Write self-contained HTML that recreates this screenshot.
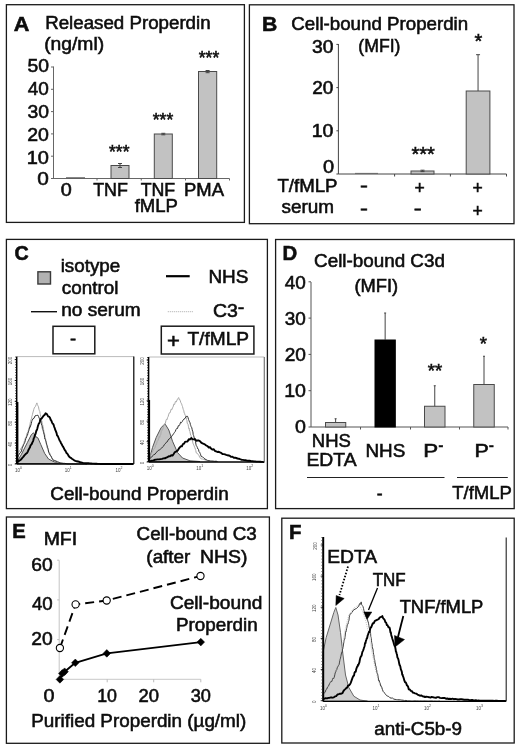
<!DOCTYPE html>
<html><head><meta charset="utf-8"><title>Figure</title>
<style>
html,body{margin:0;padding:0;background:#fff;}
body{width:520px;height:750px;overflow:hidden;}
svg{display:block;font-family:"Liberation Sans",Arial,Helvetica,sans-serif;}
</style></head><body>
<svg width="520" height="750" viewBox="0 0 520 750">
<rect x="0" y="0" width="520" height="750" fill="#ffffff"/>
<rect x="6.40" y="4.70" width="238.00" height="217.70" fill="none" stroke="#1a1a1a" stroke-width="1.3"/>
<rect x="249.40" y="4.80" width="264.60" height="218.90" fill="none" stroke="#1a1a1a" stroke-width="1.3"/>
<rect x="6.40" y="239.40" width="261.00" height="269.20" fill="none" stroke="#1a1a1a" stroke-width="1.3"/>
<rect x="275.60" y="239.50" width="238.60" height="269.10" fill="none" stroke="#1a1a1a" stroke-width="1.3"/>
<rect x="6.40" y="517.00" width="263.00" height="226.30" fill="none" stroke="#1a1a1a" stroke-width="1.3"/>
<rect x="281.80" y="518.20" width="232.40" height="224.80" fill="none" stroke="#1a1a1a" stroke-width="1.3"/>
<text transform="translate(13.86 30.50) scale(1.1098 1)" font-size="19.5" font-weight="bold" fill="#0d0d0d" stroke="#0d0d0d" stroke-width="0.55">A</text>
<text transform="translate(45.20 28.70) scale(1.0699 1)" font-size="17.5" fill="#0d0d0d" stroke="#0d0d0d" stroke-width="0.55">Released Properdin</text>
<text transform="translate(44.14 50.30) scale(1.1027 1)" font-size="17.5" fill="#0d0d0d" stroke="#0d0d0d" stroke-width="0.55">(ng/ml)</text>
<line x1="53.50" y1="66.50" x2="53.50" y2="178.50" stroke="#666" stroke-width="1" />
<line x1="53.00" y1="178.50" x2="229.50" y2="178.50" stroke="#666" stroke-width="1" />
<line x1="51.00" y1="178.50" x2="53.50" y2="178.50" stroke="#666" stroke-width="1" />
<text transform="translate(37.17 185.40) scale(1.1905 1)" font-size="17.5" fill="#0d0d0d" stroke="#0d0d0d" stroke-width="0.55">0</text>
<line x1="51.00" y1="156.20" x2="53.50" y2="156.20" stroke="#666" stroke-width="1" />
<text transform="translate(26.70 163.50) scale(1.1429 1)" font-size="17.5" fill="#0d0d0d" stroke="#0d0d0d" stroke-width="0.55">10</text>
<line x1="51.00" y1="133.90" x2="53.50" y2="133.90" stroke="#666" stroke-width="1" />
<text transform="translate(27.22 141.30) scale(1.1150 1)" font-size="17.5" fill="#0d0d0d" stroke="#0d0d0d" stroke-width="0.55">20</text>
<line x1="51.00" y1="111.60" x2="53.50" y2="111.60" stroke="#666" stroke-width="1" />
<text transform="translate(27.43 118.40) scale(1.1042 1)" font-size="17.5" fill="#0d0d0d" stroke="#0d0d0d" stroke-width="0.55">30</text>
<line x1="51.00" y1="89.30" x2="53.50" y2="89.30" stroke="#666" stroke-width="1" />
<text transform="translate(27.82 95.00) scale(1.0833 1)" font-size="17.5" fill="#0d0d0d" stroke="#0d0d0d" stroke-width="0.55">40</text>
<line x1="51.00" y1="67.00" x2="53.50" y2="67.00" stroke="#666" stroke-width="1" />
<text transform="translate(27.43 71.70) scale(1.1042 1)" font-size="17.5" fill="#0d0d0d" stroke="#0d0d0d" stroke-width="0.55">50</text>
<line x1="97.00" y1="178.50" x2="97.00" y2="180.50" stroke="#666" stroke-width="1" />
<line x1="141.25" y1="178.50" x2="141.25" y2="180.50" stroke="#666" stroke-width="1" />
<line x1="185.50" y1="178.50" x2="185.50" y2="180.50" stroke="#666" stroke-width="1" />
<line x1="229.50" y1="178.50" x2="229.50" y2="180.50" stroke="#666" stroke-width="1" />
<line x1="66.00" y1="177.80" x2="85.00" y2="177.80" stroke="#555" stroke-width="1" />
<rect x="111.00" y="165.50" width="18.00" height="13.00" fill="#c2c2c2" stroke="#4a4a4a" stroke-width="1"/>
<line x1="120.00" y1="163.50" x2="120.00" y2="167.50" stroke="#444" stroke-width="1" />
<line x1="118.00" y1="163.50" x2="122.00" y2="163.50" stroke="#444" stroke-width="1" />
<line x1="118.00" y1="167.50" x2="122.00" y2="167.50" stroke="#444" stroke-width="1" />
<rect x="154.30" y="134.00" width="18.00" height="44.50" fill="#c2c2c2" stroke="#4a4a4a" stroke-width="1"/>
<line x1="163.30" y1="133.30" x2="163.30" y2="134.80" stroke="#444" stroke-width="1" />
<line x1="161.30" y1="133.30" x2="165.30" y2="133.30" stroke="#444" stroke-width="1" />
<line x1="161.30" y1="134.80" x2="165.30" y2="134.80" stroke="#444" stroke-width="1" />
<rect x="198.50" y="71.50" width="18.20" height="107.00" fill="#c2c2c2" stroke="#4a4a4a" stroke-width="1"/>
<line x1="207.60" y1="70.50" x2="207.60" y2="72.70" stroke="#444" stroke-width="1" />
<line x1="205.60" y1="70.50" x2="209.60" y2="70.50" stroke="#444" stroke-width="1" />
<line x1="205.60" y1="72.70" x2="209.60" y2="72.70" stroke="#444" stroke-width="1" />
<text transform="translate(60.81 195.70) scale(1.1310 1)" font-size="17.5" fill="#0d0d0d" stroke="#0d0d0d" stroke-width="0.55">0</text>
<text transform="translate(93.14 195.70) scale(1.0216 1)" font-size="17.5" fill="#0d0d0d" stroke="#0d0d0d" stroke-width="0.55">TNF</text>
<text transform="translate(140.64 195.70) scale(1.0155 1)" font-size="17.5" fill="#0d0d0d" stroke="#0d0d0d" stroke-width="0.55">TNF</text>
<text transform="translate(134.72 212.00) scale(1.0596 1)" font-size="17.5" fill="#0d0d0d" stroke="#0d0d0d" stroke-width="0.55">fMLP</text>
<text transform="translate(184.02 195.70) scale(1.0552 1)" font-size="17.5" fill="#0d0d0d" stroke="#0d0d0d" stroke-width="0.55">PMA</text>
<text transform="translate(109.06 157.91) scale(1.0000 1)" font-size="17.5" fill="#0d0d0d" stroke="#0d0d0d" stroke-width="0.55">***</text>
<text transform="translate(152.76 126.01) scale(1.0000 1)" font-size="17.5" fill="#0d0d0d" stroke="#0d0d0d" stroke-width="0.55">***</text>
<text transform="translate(198.76 64.11) scale(1.0000 1)" font-size="17.5" fill="#0d0d0d" stroke="#0d0d0d" stroke-width="0.55">***</text>
<text transform="translate(261.93 30.80) scale(1.0845 1)" font-size="19.5" font-weight="bold" fill="#0d0d0d" stroke="#0d0d0d" stroke-width="0.55">B</text>
<text transform="translate(291.36 29.50) scale(1.0694 1)" font-size="17.5" fill="#0d0d0d" stroke="#0d0d0d" stroke-width="0.55">Cell-bound Properdin</text>
<text transform="translate(358.34 51.50) scale(1.0091 1)" font-size="17.5" fill="#0d0d0d" stroke="#0d0d0d" stroke-width="0.55">(MFI)</text>
<line x1="338.40" y1="44.00" x2="338.40" y2="174.00" stroke="#444" stroke-width="1" />
<line x1="338.40" y1="174.00" x2="506.50" y2="174.00" stroke="#444" stroke-width="1" />
<line x1="336.40" y1="174.00" x2="338.40" y2="174.00" stroke="#444" stroke-width="1" />
<text transform="translate(323.00 173.40) scale(1.1429 1)" font-size="17.5" fill="#0d0d0d" stroke="#0d0d0d" stroke-width="0.55">0</text>
<line x1="336.40" y1="130.80" x2="338.40" y2="130.80" stroke="#444" stroke-width="1" />
<text transform="translate(311.74 136.80) scale(1.1143 1)" font-size="17.5" fill="#0d0d0d" stroke="#0d0d0d" stroke-width="0.55">10</text>
<line x1="336.40" y1="87.60" x2="338.40" y2="87.60" stroke="#444" stroke-width="1" />
<text transform="translate(312.25 93.60) scale(1.0871 1)" font-size="17.5" fill="#0d0d0d" stroke="#0d0d0d" stroke-width="0.55">20</text>
<line x1="336.40" y1="44.40" x2="338.40" y2="44.40" stroke="#444" stroke-width="1" />
<text transform="translate(311.93 53.00) scale(1.1042 1)" font-size="17.5" fill="#0d0d0d" stroke="#0d0d0d" stroke-width="0.55">30</text>
<line x1="394.60" y1="174.00" x2="394.60" y2="176.50" stroke="#444" stroke-width="1" />
<line x1="450.40" y1="174.00" x2="450.40" y2="176.50" stroke="#444" stroke-width="1" />
<line x1="506.50" y1="174.00" x2="506.50" y2="176.50" stroke="#444" stroke-width="1" />
<line x1="355.00" y1="173.40" x2="378.00" y2="173.40" stroke="#666" stroke-width="1" />
<rect x="411.00" y="171.00" width="23.00" height="3.00" fill="#c2c2c2" stroke="#4a4a4a" stroke-width="1"/>
<line x1="422.50" y1="170.20" x2="422.50" y2="171.60" stroke="#444" stroke-width="1" />
<line x1="420.50" y1="170.20" x2="424.50" y2="170.20" stroke="#444" stroke-width="1" />
<line x1="420.50" y1="171.60" x2="424.50" y2="171.60" stroke="#444" stroke-width="1" />
<rect x="466.20" y="91.00" width="23.70" height="83.00" fill="#c2c2c2" stroke="#4a4a4a" stroke-width="1"/>
<line x1="478.05" y1="54.70" x2="478.05" y2="91.00" stroke="#444" stroke-width="1" />
<line x1="476.05" y1="54.70" x2="480.05" y2="54.70" stroke="#444" stroke-width="1" />
<text transform="translate(411.50 161.20) scale(1.0000 1)" font-size="20" fill="#0d0d0d" stroke="#0d0d0d" stroke-width="0.55">***</text>
<text transform="translate(474.60 47.50) scale(1.0000 1)" font-size="20" fill="#0d0d0d" stroke="#0d0d0d" stroke-width="0.55">*</text>
<text transform="translate(277.43 191.50) scale(1.0667 1)" font-size="17.5" fill="#0d0d0d" stroke="#0d0d0d" stroke-width="0.55">T/fMLP</text>
<text transform="translate(281.43 213.00) scale(1.0811 1)" font-size="17.5" fill="#0d0d0d" stroke="#0d0d0d" stroke-width="0.55">serum</text>
<text transform="translate(360.04 192.14) scale(1.3500 1)" font-size="17.5" fill="#0d0d0d" stroke="#0d0d0d" stroke-width="0.55">-</text>
<text transform="translate(360.04 215.04) scale(1.3500 1)" font-size="17.5" fill="#0d0d0d" stroke="#0d0d0d" stroke-width="0.55">-</text>
<text transform="translate(414.38 194.06) scale(1.0000 1)" font-size="17.5" fill="#0d0d0d" stroke="#0d0d0d" stroke-width="0.55">+</text>
<text transform="translate(413.64 215.04) scale(1.3500 1)" font-size="17.5" fill="#0d0d0d" stroke="#0d0d0d" stroke-width="0.55">-</text>
<text transform="translate(472.48 194.06) scale(1.0000 1)" font-size="17.5" fill="#0d0d0d" stroke="#0d0d0d" stroke-width="0.55">+</text>
<text transform="translate(472.48 216.86) scale(1.0000 1)" font-size="17.5" fill="#0d0d0d" stroke="#0d0d0d" stroke-width="0.55">+</text>
<text transform="translate(14.61 260.00) scale(1.0100 1)" font-size="19.5" font-weight="bold" fill="#0d0d0d" stroke="#0d0d0d" stroke-width="0.55">C</text>
<rect x="37.90" y="271.80" width="12.60" height="12.20" fill="#b2b2b2" stroke="#3a3a3a" stroke-width="1.4"/>
<text transform="translate(60.68 271.70) scale(1.0736 1)" font-size="17.5" fill="#0d0d0d" stroke="#0d0d0d" stroke-width="0.55">isotype</text>
<text transform="translate(61.75 293.70) scale(1.0777 1)" font-size="17.5" fill="#0d0d0d" stroke="#0d0d0d" stroke-width="0.55">control</text>
<line x1="31.00" y1="311.70" x2="57.00" y2="311.70" stroke="#111" stroke-width="1.4" />
<text transform="translate(61.26 315.80) scale(1.0891 1)" font-size="17.5" fill="#0d0d0d" stroke="#0d0d0d" stroke-width="0.55">no serum</text>
<line x1="166.00" y1="276.20" x2="189.70" y2="276.20" stroke="#000" stroke-width="2.2" />
<text transform="translate(208.38 282.90) scale(1.0824 1)" font-size="17.5" fill="#0d0d0d" stroke="#0d0d0d" stroke-width="0.55">NHS</text>
<line x1="167.80" y1="311.70" x2="192.90" y2="311.70" stroke="#aaa" stroke-width="1" stroke-dasharray="1 1"/>
<text transform="translate(212.93 316.60) scale(1.1139 1)" font-size="17.5" fill="#0d0d0d" stroke="#0d0d0d" stroke-width="0.55">C3</text>
<text transform="translate(237.95 311.78) scale(1.4000 1)" font-size="13" font-weight="bold" fill="#0d0d0d" stroke="#0d0d0d" stroke-width="0.55">-</text>
<rect x="53.00" y="326.30" width="41.80" height="27.50" fill="none" stroke="#1a1a1a" stroke-width="1.5"/>
<text transform="translate(69.92 344.94) scale(1.0500 1)" font-size="17.5" fill="#0d0d0d" stroke="#0d0d0d" stroke-width="0.55">-</text>
<rect x="161.30" y="326.20" width="92.60" height="27.80" fill="none" stroke="#1a1a1a" stroke-width="1.5"/>
<text transform="translate(166.97 348.10) scale(1.1000 1)" font-size="20" fill="#0d0d0d" stroke="#0d0d0d" stroke-width="0.55">+</text>
<text transform="translate(187.42 345.30) scale(1.0939 1)" font-size="17.5" fill="#0d0d0d" stroke="#0d0d0d" stroke-width="0.55">T/fMLP</text>
<text transform="translate(50.26 500.30) scale(1.0798 1)" font-size="17.5" fill="#0d0d0d" stroke="#0d0d0d" stroke-width="0.55">Cell-bound Properdin</text>
<line x1="16.70" y1="356.60" x2="133.80" y2="356.60" stroke="#bbb" stroke-width="1" />
<path d="M17.1 463.5 L17.1 461.9 L21.5 454.2 L27.3 442.7 L31.2 435.0 L33.5 432.7 L36.0 436.9 L37.9 437.9 L40.8 444.6 L44.6 453.3 L48.5 459.0 L54.2 461.9 L61.9 463.5 Z" fill="#c4c4c4" stroke="#555" stroke-width="1" stroke-linejoin="round" />
<path d="M18.7 452.3 L19.5 450.6 L20.3 449.9 L21.1 447.9 L21.9 447.2 L22.7 445.7 L23.5 443.9 L23.9 443.4 L24.3 441.4 L24.7 440.8 L25.1 438.9 L25.5 437.7 L25.9 437.1 L26.3 436.5 L26.8 434.0 L27.2 433.0 L27.6 432.5 L28.0 431.8 L28.4 429.9 L28.8 428.4 L29.2 428.2 L29.6 425.2 L29.9 425.4 L30.2 423.1 L30.5 421.5 L30.8 420.2 L31.2 419.3 L31.5 418.9 L31.8 416.5 L32.1 415.9 L32.4 414.7 L32.8 413.0 L33.1 412.0 L33.7 409.7 L34.2 408.2 L34.8 407.1 L35.4 406.5 L36.2 404.6 L36.9 402.9 L37.4 404.7 L37.9 405.7 L38.5 406.8 L38.9 409.2 L39.4 410.7 L39.8 411.5 L40.1 413.4 L40.4 414.7 L40.7 416.6 L41.0 417.7 L41.2 418.3 L41.5 420.9 L41.8 420.7 L42.1 422.5 L42.4 424.5 L42.7 424.8 L43.0 426.7 L43.3 427.2 L43.6 429.7 L43.8 431.2 L44.1 432.2 L44.4 434.1 L44.7 434.5 L45.0 436.5 L45.3 437.7 L45.6 439.0 L45.9 440.1 L46.2 442.0 L46.5 443.4 L46.9 443.9 L47.2 445.5 L47.5 445.9 L47.8 448.1 L48.1 449.3 L48.5 451.0 L49.0 452.0 L49.6 452.6 L50.1 454.0 L50.7 455.5 L51.2 456.1 L51.8 457.8 L52.3 458.8 L53.5 459.5 L54.6 460.3 L55.8 461.5 L56.9 461.9 L58.1 462.8 L59.5 463.0 L60.8 463.2 L62.2 463.1 L63.6 463.3 L64.9 463.4 L66.3 463.6 L67.7 463.7" fill="none" stroke="#aaa" stroke-width="1" stroke-linejoin="round" />
<path d="M17.7 457.1 L18.5 455.5 L19.2 454.3 L20.0 452.9 L20.8 452.2 L21.5 451.0 L22.1 448.5 L22.6 447.2 L23.2 445.9 L23.7 444.5 L24.3 443.5 L24.8 442.3 L25.4 440.4 L25.8 438.6 L26.2 438.1 L26.7 436.7 L27.1 435.8 L27.5 435.2 L27.9 433.4 L28.4 431.8 L28.8 430.7 L29.2 429.5 L29.6 427.2 L30.1 427.5 L30.5 426.0 L30.9 425.0 L31.3 423.6 L31.7 421.6 L32.1 420.4 L33.1 418.6 L34.0 418.3 L35.0 415.9 L36.4 415.5 L37.9 415.2 L38.6 416.6 L39.3 418.4 L40.0 419.3 L40.8 420.6 L41.1 422.2 L41.4 423.4 L41.7 425.1 L42.1 425.8 L42.4 428.6 L42.7 429.4 L43.0 429.9 L43.3 431.3 L43.7 432.8 L44.0 434.1 L44.3 435.0 L44.6 437.6 L44.9 439.1 L45.3 439.4 L45.6 440.7 L45.9 441.4 L46.2 442.7 L46.5 444.4 L47.0 445.6 L47.4 447.8 L47.8 448.3 L48.2 449.5 L48.6 452.1 L49.0 452.9 L49.4 453.8 L50.2 455.4 L51.0 456.1 L51.7 457.7 L52.5 459.2 L53.3 460.3 L54.6 460.7 L56.0 461.0 L57.3 461.7 L58.7 462.2 L60.0 463.0 L61.5 463.1 L63.1 463.4 L64.6 463.4 L66.2 463.6 L67.7 463.9 L69.1 463.9 L70.4 463.9 L71.8 463.9 L73.2 463.9 L74.6 463.9 L75.9 463.9 L77.3 463.9 L78.7 463.9 L80.1 463.9 L81.4 464.0 L82.8 464.0 L84.2 464.0 L85.5 464.0 L86.9 464.0" fill="none" stroke="#333" stroke-width="1" stroke-linejoin="round" />
<path d="M17.1 461.9 L18.2 461.4 L19.3 460.7 L20.4 460.0 L21.5 459.0 L22.5 457.7 L23.5 456.6 L24.4 455.4 L25.4 454.3 L26.3 453.5 L27.3 452.7 L27.9 451.4 L28.6 449.7 L29.2 448.6 L29.9 447.5 L30.5 445.4 L31.2 444.8 L31.8 443.9 L32.4 442.4 L33.1 441.1 L33.5 439.5 L33.9 437.8 L34.4 437.3 L34.8 435.4 L35.2 434.8 L35.6 433.7 L36.1 431.6 L36.5 430.4 L36.9 429.9 L37.4 428.2 L37.9 426.1 L38.4 424.7 L38.8 423.5 L39.3 423.2 L39.8 421.7 L40.3 419.5 L40.8 419.1 L41.7 418.4 L42.7 417.0 L43.7 415.6 L44.6 414.9 L45.6 413.3 L46.9 414.1 L48.1 416.4 L49.4 416.9 L50.1 418.1 L50.7 419.9 L51.3 420.5 L52.0 422.4 L52.6 423.6 L53.3 424.0 L53.8 425.4 L54.2 426.8 L54.7 428.0 L55.2 429.8 L55.7 430.7 L56.2 432.2 L56.6 433.2 L57.1 435.6 L57.8 436.1 L58.4 437.5 L59.0 439.0 L59.7 440.7 L60.3 441.3 L61.0 443.2 L61.6 444.0 L62.2 445.3 L62.9 446.6 L63.5 447.3 L64.2 449.0 L64.8 450.1 L65.6 451.0 L66.4 452.9 L67.2 453.5 L68.0 454.8 L68.8 456.2 L69.6 457.2 L70.8 457.8 L71.9 458.7 L73.1 459.5 L74.2 460.3 L75.4 460.8 L76.7 461.3 L77.9 461.5 L79.2 461.8 L80.5 462.3 L81.8 462.6 L83.1 462.9 L84.4 463.1 L85.8 463.2 L87.1 463.2 L88.5 463.3 L89.8 463.4 L91.2 463.5 L92.5 463.6 L93.8 463.6 L95.2 463.8 L96.5 463.8 L97.9 463.9 L99.2 463.9 L100.6 464.0 L101.9 464.0 L103.3 464.0 L104.6 464.0 L106.0 464.0 L107.3 464.0 L108.7 464.0 L110.0 464.0 L111.4 464.0 L112.7 464.0 L114.1 464.0 L115.4 464.0 L116.8 464.0 L118.1 464.0 L119.5 464.0 L120.9 464.0 L122.2 464.0 L123.6 464.0 L124.9 464.0 L126.3 464.0 L127.6 464.0 L129.0 464.0 L130.4 464.0 L131.7 464.0 L133.1 464.0" fill="none" stroke="#000" stroke-width="1.9" stroke-linejoin="round" />
<line x1="16.70" y1="356.60" x2="16.70" y2="464.00" stroke="#000" stroke-width="1.5" />
<line x1="15.60" y1="356.60" x2="15.60" y2="464.00" stroke="#333" stroke-width="1.0" stroke-dasharray="0.8 1.8"/>
<line x1="17.30" y1="402.00" x2="17.30" y2="464.00" stroke="#000" stroke-width="2.2" />
<line x1="16.70" y1="464.00" x2="133.80" y2="464.00" stroke="#000" stroke-width="1.3" />
<line x1="133.80" y1="356.60" x2="133.80" y2="464.00" stroke="#000" stroke-width="1.2" />
<line x1="148.60" y1="357.00" x2="264.30" y2="357.00" stroke="#bbb" stroke-width="1" />
<path d="M149.2 461.8 L149.2 460.0 L152.5 447.5 L156.2 437.5 L161.2 427.5 L165.0 423.8 L168.8 430.0 L172.5 441.2 L177.5 452.5 L182.5 458.0 L190.0 460.8 L200.0 461.5 Z" fill="#c4c4c4" stroke="#555" stroke-width="1" stroke-linejoin="round" />
<path d="M149.2 457.5 L150.0 456.6 L150.7 454.6 L151.4 453.7 L152.1 452.5 L152.8 451.0 L153.6 449.5 L154.3 448.5 L155.0 447.9 L155.5 445.4 L156.0 445.1 L156.6 443.6 L157.1 441.6 L157.6 440.9 L158.1 440.3 L158.6 438.8 L159.2 436.6 L159.7 437.3 L160.2 435.6 L160.7 434.8 L161.2 431.6 L161.8 430.7 L162.3 429.0 L162.8 429.4 L163.3 427.0 L163.9 425.4 L164.4 424.8 L164.9 424.7 L165.4 423.2 L165.9 420.7 L166.5 419.2 L167.0 419.7 L167.5 417.7 L168.1 416.7 L168.8 414.1 L169.4 412.8 L170.0 412.9 L170.6 411.1 L171.2 409.1 L171.9 409.7 L172.5 407.8 L173.1 406.9 L173.8 404.1 L174.6 404.5 L175.4 401.5 L176.2 402.0 L177.1 399.9 L177.9 398.4 L178.8 397.6 L179.2 399.7 L179.8 399.5 L180.2 400.4 L180.8 402.6 L181.2 403.2 L181.7 404.1 L182.1 405.5 L182.5 406.5 L182.9 408.1 L183.3 409.6 L183.8 410.8 L184.2 413.1 L184.6 413.3 L185.0 415.0 L185.4 415.5 L185.8 417.2 L186.1 417.7 L186.5 419.5 L186.9 420.2 L187.2 423.0 L187.6 423.9 L188.0 424.3 L188.4 426.2 L188.8 428.5 L189.1 428.0 L189.5 431.0 L189.9 431.5 L190.2 433.0 L190.6 435.1 L191.0 435.5 L191.4 437.1 L191.8 438.9 L192.1 440.9 L192.5 440.9 L192.9 443.1 L193.3 444.1 L193.8 445.2 L194.2 446.1 L194.6 447.2 L195.0 448.0 L195.4 449.4 L195.8 450.6 L196.2 452.8 L197.1 453.2 L197.9 454.2 L198.8 455.2 L199.6 457.0 L200.4 458.0 L201.2 458.9 L202.5 459.0 L203.8 459.4 L205.0 459.9 L206.2 460.4 L207.5 460.7 L208.8 461.2" fill="none" stroke="#aaa" stroke-width="1" stroke-linejoin="round" />
<path d="M149.2 458.8 L150.4 458.1 L151.6 457.2 L152.7 455.8 L153.8 454.5 L155.0 454.3 L156.1 452.6 L157.1 451.8 L158.2 450.4 L159.3 450.0 L160.4 449.2 L161.4 448.4 L162.5 447.0 L163.4 446.4 L164.4 444.5 L165.3 443.8 L166.2 442.4 L167.2 441.9 L168.1 440.1 L169.1 438.9 L170.0 438.4 L170.8 437.1 L171.5 436.7 L172.2 435.4 L173.0 434.8 L173.8 433.4 L174.5 432.4 L175.2 431.6 L176.0 429.5 L176.8 428.3 L177.5 428.5 L178.3 425.7 L179.1 425.8 L179.8 424.5 L180.6 422.2 L181.4 422.7 L182.2 421.7 L183.0 420.1 L183.8 419.2 L185.0 418.5 L186.2 416.4 L187.5 416.3 L188.0 417.5 L188.5 419.4 L189.0 420.6 L189.5 421.9 L190.0 422.7 L190.4 424.5 L190.7 425.4 L191.1 426.6 L191.4 427.0 L191.8 427.8 L192.1 429.3 L192.5 431.0 L192.9 431.8 L193.2 434.7 L193.6 435.5 L194.0 437.0 L194.4 438.4 L194.8 439.8 L195.1 440.9 L195.5 441.4 L195.9 444.1 L196.2 445.4 L196.8 446.3 L197.4 447.6 L197.9 449.0 L198.5 449.4 L199.0 451.6 L199.6 452.2 L200.1 453.3 L200.7 454.8 L201.2 456.5 L202.5 456.8 L203.8 458.1 L205.0 459.1 L206.2 459.6 L207.5 460.4 L208.9 460.6 L210.4 460.9 L211.8 461.0 L213.2 461.1 L214.6 461.3 L216.1 461.2 L217.5 461.5" fill="none" stroke="#333" stroke-width="1" stroke-linejoin="round" />
<path d="M149.2 461.2 L150.6 461.0 L152.0 460.6 L153.4 460.4 L154.8 459.8 L156.1 459.6 L157.5 459.4 L159.0 459.4 L160.5 459.1 L162.0 458.9 L163.5 458.4 L165.0 458.3 L166.2 457.7 L167.5 457.1 L168.8 456.3 L170.0 456.4 L171.2 455.3 L172.5 455.5 L173.5 454.4 L174.6 452.4 L175.6 451.8 L176.7 451.2 L177.7 450.4 L178.8 448.7 L179.8 447.4 L180.8 446.3 L181.9 446.3 L182.9 444.1 L184.0 443.7 L185.0 441.9 L186.2 441.6 L187.5 441.5 L188.8 439.2 L190.0 439.5 L191.2 438.0 L192.5 439.2 L193.8 439.4 L195.0 439.0 L196.2 440.7 L197.5 440.5 L198.8 440.5 L200.0 441.2 L201.2 442.7 L202.5 443.4 L203.8 443.9 L205.0 444.5 L206.2 445.5 L207.5 446.1 L208.8 447.5 L210.0 447.1 L211.2 448.8 L212.5 449.6 L213.8 449.3 L215.0 451.0 L216.2 451.3 L217.5 452.0 L218.8 451.8 L220.0 452.4 L221.2 452.9 L222.5 454.0 L223.8 454.1 L225.0 454.4 L226.2 454.9 L227.5 455.3 L228.8 455.5 L230.0 455.9 L231.2 456.9 L232.5 456.8 L233.8 457.7 L235.0 457.6 L236.2 458.0 L237.5 458.5 L238.8 458.7 L240.0 459.2 L241.4 459.7 L242.8 459.9 L244.2 460.1 L245.6 460.2 L246.9 460.6 L248.3 460.8 L249.7 460.8 L251.1 461.1 L252.5 461.1 L253.8 461.4 L255.1 461.4 L256.4 461.6 L257.7 461.6 L259.0 461.6 L260.3 461.7 L261.6 461.9 L262.9 461.9 L264.2 462.0" fill="none" stroke="#000" stroke-width="1.9" stroke-linejoin="round" />
<line x1="148.60" y1="357.00" x2="148.60" y2="462.00" stroke="#000" stroke-width="1.5" />
<line x1="147.50" y1="357.00" x2="147.50" y2="462.00" stroke="#333" stroke-width="1.0" stroke-dasharray="0.8 1.8"/>
<line x1="149.10" y1="400.00" x2="149.10" y2="462.00" stroke="#000" stroke-width="2.0" />
<line x1="148.60" y1="462.00" x2="264.30" y2="462.00" stroke="#000" stroke-width="1.3" />
<line x1="264.30" y1="357.00" x2="264.30" y2="462.00" stroke="#777" stroke-width="1.2" />
<text x="11.7" y="465.0" font-size="4.5" text-anchor="middle" fill="#444" transform="rotate(-90 11.7 465.0)">0</text>
<line x1="14.70" y1="464.00" x2="16.70" y2="464.00" stroke="#000" stroke-width="0.8" />
<text x="11.7" y="444.12" font-size="4.5" text-anchor="middle" fill="#444" transform="rotate(-90 11.7 444.12)">40</text>
<line x1="14.70" y1="443.12" x2="16.70" y2="443.12" stroke="#000" stroke-width="0.8" />
<text x="11.7" y="423.24" font-size="4.5" text-anchor="middle" fill="#444" transform="rotate(-90 11.7 423.24)">80</text>
<line x1="14.70" y1="422.24" x2="16.70" y2="422.24" stroke="#000" stroke-width="0.8" />
<text x="11.7" y="402.36" font-size="4.5" text-anchor="middle" fill="#444" transform="rotate(-90 11.7 402.36)">120</text>
<line x1="14.70" y1="401.36" x2="16.70" y2="401.36" stroke="#000" stroke-width="0.8" />
<text x="11.7" y="381.48" font-size="4.5" text-anchor="middle" fill="#444" transform="rotate(-90 11.7 381.48)">160</text>
<line x1="14.70" y1="380.48" x2="16.70" y2="380.48" stroke="#000" stroke-width="0.8" />
<text x="11.7" y="360.6" font-size="4.5" text-anchor="middle" fill="#444" transform="rotate(-90 11.7 360.6)">200</text>
<line x1="14.70" y1="359.60" x2="16.70" y2="359.60" stroke="#000" stroke-width="0.8" />
<text x="143.6" y="463.0" font-size="4.5" text-anchor="middle" fill="#444" transform="rotate(-90 143.6 463.0)">0</text>
<line x1="146.60" y1="462.00" x2="148.60" y2="462.00" stroke="#000" stroke-width="0.8" />
<text x="143.6" y="442.6" font-size="4.5" text-anchor="middle" fill="#444" transform="rotate(-90 143.6 442.6)">40</text>
<line x1="146.60" y1="441.60" x2="148.60" y2="441.60" stroke="#000" stroke-width="0.8" />
<text x="143.6" y="422.2" font-size="4.5" text-anchor="middle" fill="#444" transform="rotate(-90 143.6 422.2)">80</text>
<line x1="146.60" y1="421.20" x2="148.60" y2="421.20" stroke="#000" stroke-width="0.8" />
<text x="143.6" y="401.8" font-size="4.5" text-anchor="middle" fill="#444" transform="rotate(-90 143.6 401.8)">120</text>
<line x1="146.60" y1="400.80" x2="148.60" y2="400.80" stroke="#000" stroke-width="0.8" />
<text x="143.6" y="381.4" font-size="4.5" text-anchor="middle" fill="#444" transform="rotate(-90 143.6 381.4)">160</text>
<line x1="146.60" y1="380.40" x2="148.60" y2="380.40" stroke="#000" stroke-width="0.8" />
<text x="143.6" y="361.0" font-size="4.5" text-anchor="middle" fill="#444" transform="rotate(-90 143.6 361.0)">200</text>
<line x1="146.60" y1="360.00" x2="148.60" y2="360.00" stroke="#000" stroke-width="0.8" />
<text x="17.5" y="471.5" font-size="4.5" text-anchor="middle" fill="#444">10</text>
<text x="21.0" y="469" font-size="3.5" text-anchor="middle" fill="#444">0</text>
<text x="67.3" y="471.5" font-size="4.5" text-anchor="middle" fill="#444">10</text>
<text x="70.8" y="469" font-size="3.5" text-anchor="middle" fill="#444">1</text>
<text x="118" y="471.5" font-size="4.5" text-anchor="middle" fill="#444">10</text>
<text x="121.5" y="469" font-size="3.5" text-anchor="middle" fill="#444">2</text>
<text x="149.3" y="469.5" font-size="4.5" text-anchor="middle" fill="#444">10</text>
<text x="152.8" y="467" font-size="3.5" text-anchor="middle" fill="#444">0</text>
<text x="198.8" y="469.5" font-size="4.5" text-anchor="middle" fill="#444">10</text>
<text x="202.3" y="467" font-size="3.5" text-anchor="middle" fill="#444">1</text>
<text x="248.8" y="469.5" font-size="4.5" text-anchor="middle" fill="#444">10</text>
<text x="252.3" y="467" font-size="3.5" text-anchor="middle" fill="#444">2</text>
<text transform="translate(282.58 260.20) scale(1.0423 1)" font-size="19.5" font-weight="bold" fill="#0d0d0d" stroke="#0d0d0d" stroke-width="0.55">D</text>
<text transform="translate(314.06 267.00) scale(1.0764 1)" font-size="17.5" fill="#0d0d0d" stroke="#0d0d0d" stroke-width="0.55">Cell-bound C3d</text>
<text transform="translate(354.40 291.50) scale(1.0470 1)" font-size="17.5" fill="#0d0d0d" stroke="#0d0d0d" stroke-width="0.55">(MFI)</text>
<line x1="311.00" y1="282.00" x2="311.00" y2="427.00" stroke="#555" stroke-width="1" />
<line x1="311.00" y1="427.00" x2="508.00" y2="427.00" stroke="#555" stroke-width="1" />
<line x1="308.50" y1="427.00" x2="311.00" y2="427.00" stroke="#555" stroke-width="1" />
<text transform="translate(295.02 433.40) scale(1.1190 1)" font-size="17.5" fill="#0d0d0d" stroke="#0d0d0d" stroke-width="0.55">0</text>
<line x1="308.50" y1="390.70" x2="311.00" y2="390.70" stroke="#555" stroke-width="1" />
<text transform="translate(284.13 397.10) scale(1.1200 1)" font-size="17.5" fill="#0d0d0d" stroke="#0d0d0d" stroke-width="0.55">10</text>
<line x1="308.50" y1="354.40" x2="311.00" y2="354.40" stroke="#555" stroke-width="1" />
<text transform="translate(284.64 360.80) scale(1.0927 1)" font-size="17.5" fill="#0d0d0d" stroke="#0d0d0d" stroke-width="0.55">20</text>
<line x1="308.50" y1="318.10" x2="311.00" y2="318.10" stroke="#555" stroke-width="1" />
<text transform="translate(284.84 324.50) scale(1.0821 1)" font-size="17.5" fill="#0d0d0d" stroke="#0d0d0d" stroke-width="0.55">30</text>
<line x1="308.50" y1="281.80" x2="311.00" y2="281.80" stroke="#555" stroke-width="1" />
<text transform="translate(284.82 289.20) scale(1.0833 1)" font-size="17.5" fill="#0d0d0d" stroke="#0d0d0d" stroke-width="0.55">40</text>
<line x1="360.50" y1="427.00" x2="360.50" y2="429.50" stroke="#555" stroke-width="1" />
<line x1="410.50" y1="427.00" x2="410.50" y2="429.50" stroke="#555" stroke-width="1" />
<line x1="459.50" y1="427.00" x2="459.50" y2="429.50" stroke="#555" stroke-width="1" />
<line x1="508.00" y1="427.00" x2="508.00" y2="429.50" stroke="#555" stroke-width="1" />
<rect x="325.50" y="422.50" width="20.25" height="4.50" fill="#c2c2c2" stroke="#4a4a4a" stroke-width="1"/>
<line x1="335.62" y1="418.75" x2="335.62" y2="422.50" stroke="#444" stroke-width="1" />
<line x1="334.62" y1="418.75" x2="336.62" y2="418.75" stroke="#444" stroke-width="1" />
<rect x="375.00" y="340.00" width="20.30" height="87.00" fill="#000" stroke="#000" stroke-width="1"/>
<line x1="385.15" y1="313.00" x2="385.15" y2="340.00" stroke="#444" stroke-width="1" />
<line x1="384.15" y1="313.00" x2="386.15" y2="313.00" stroke="#444" stroke-width="1" />
<rect x="424.50" y="406.25" width="20.50" height="20.75" fill="#c2c2c2" stroke="#4a4a4a" stroke-width="1"/>
<line x1="434.75" y1="385.75" x2="434.75" y2="406.25" stroke="#444" stroke-width="1" />
<line x1="433.75" y1="385.75" x2="435.75" y2="385.75" stroke="#444" stroke-width="1" />
<rect x="473.75" y="384.50" width="20.50" height="42.50" fill="#c2c2c2" stroke="#4a4a4a" stroke-width="1"/>
<line x1="484.00" y1="356.25" x2="484.00" y2="384.50" stroke="#444" stroke-width="1" />
<line x1="483.00" y1="356.25" x2="485.00" y2="356.25" stroke="#444" stroke-width="1" />
<text transform="translate(427.79 376.53) scale(1.0000 1)" font-size="18.5" fill="#0d0d0d" stroke="#0d0d0d" stroke-width="0.55">**</text>
<text transform="translate(479.64 350.33) scale(1.0000 1)" font-size="18.5" fill="#0d0d0d" stroke="#0d0d0d" stroke-width="0.55">*</text>
<text transform="translate(311.82 446.80) scale(1.0565 1)" font-size="17.5" fill="#0d0d0d" stroke="#0d0d0d" stroke-width="0.55">NHS</text>
<text transform="translate(306.45 465.60) scale(1.1042 1)" font-size="17.5" fill="#0d0d0d" stroke="#0d0d0d" stroke-width="0.55">EDTA</text>
<text transform="translate(365.49 457.30) scale(1.0766 1)" font-size="17.5" fill="#0d0d0d" stroke="#0d0d0d" stroke-width="0.55">NHS</text>
<text transform="translate(423.21 457.00) scale(1.2817 1)" font-size="17.5" fill="#0d0d0d" stroke="#0d0d0d" stroke-width="0.55">P</text>
<text transform="translate(438.60 449.98) scale(1.1000 1)" font-size="13" font-weight="bold" fill="#0d0d0d" stroke="#0d0d0d" stroke-width="0.55">-</text>
<text transform="translate(474.48 457.00) scale(1.2283 1)" font-size="17.5" fill="#0d0d0d" stroke="#0d0d0d" stroke-width="0.55">P</text>
<text transform="translate(489.10 449.98) scale(1.1000 1)" font-size="13" font-weight="bold" fill="#0d0d0d" stroke="#0d0d0d" stroke-width="0.55">-</text>
<line x1="307.00" y1="477.50" x2="444.50" y2="477.50" stroke="#222" stroke-width="1.2" />
<line x1="457.00" y1="477.50" x2="507.80" y2="477.50" stroke="#222" stroke-width="1.2" />
<text transform="translate(376.67 500.39) scale(1.0000 1)" font-size="17.5" fill="#0d0d0d" stroke="#0d0d0d" stroke-width="0.55">-</text>
<text transform="translate(452.23 498.60) scale(1.0594 1)" font-size="17.5" fill="#0d0d0d" stroke="#0d0d0d" stroke-width="0.55">T/fMLP</text>
<text transform="translate(12.29 538.20) scale(1.0347 1)" font-size="19.5" font-weight="bold" fill="#0d0d0d" stroke="#0d0d0d" stroke-width="0.55">E</text>
<text transform="translate(43.64 544.50) scale(1.1134 1)" font-size="17.5" fill="#0d0d0d" stroke="#0d0d0d" stroke-width="0.55">MFI</text>
<text transform="translate(136.56 540.10) scale(1.0748 1)" font-size="17.5" fill="#0d0d0d" stroke="#0d0d0d" stroke-width="0.55">Cell-bound C3</text>
<text transform="translate(146.37 562.50) scale(1.0770 1)" font-size="17.5" fill="#0d0d0d" stroke="#0d0d0d" stroke-width="0.55">(after</text>
<text transform="translate(200.05 562.50) scale(1.1106 1)" font-size="17.5" fill="#0d0d0d" stroke="#0d0d0d" stroke-width="0.55">NHS)</text>
<text transform="translate(169.94 609.00) scale(1.0920 1)" font-size="17.5" fill="#0d0d0d" stroke="#0d0d0d" stroke-width="0.55">Cell-bound</text>
<text transform="translate(175.99 631.30) scale(1.0774 1)" font-size="17.5" fill="#0d0d0d" stroke="#0d0d0d" stroke-width="0.55">Properdin</text>
<line x1="59.20" y1="560.40" x2="59.20" y2="679.30" stroke="#c4c4c4" stroke-width="1" />
<line x1="59.20" y1="679.30" x2="200.80" y2="679.30" stroke="#c8c8c8" stroke-width="1" />
<line x1="57.20" y1="639.60" x2="59.20" y2="639.60" stroke="#bbb" stroke-width="1" />
<text transform="translate(31.34 645.20) scale(1.0983 1)" font-size="17.5" fill="#0d0d0d" stroke="#0d0d0d" stroke-width="0.55">20</text>
<line x1="57.20" y1="599.90" x2="59.20" y2="599.90" stroke="#bbb" stroke-width="1" />
<text transform="translate(31.93 610.10) scale(1.0670 1)" font-size="17.5" fill="#0d0d0d" stroke="#0d0d0d" stroke-width="0.55">40</text>
<line x1="57.20" y1="560.20" x2="59.20" y2="560.20" stroke="#bbb" stroke-width="1" />
<text transform="translate(31.34 571.20) scale(1.0983 1)" font-size="17.5" fill="#0d0d0d" stroke="#0d0d0d" stroke-width="0.55">60</text>
<line x1="107.20" y1="679.30" x2="107.20" y2="682.30" stroke="#bbb" stroke-width="1" />
<line x1="153.70" y1="679.30" x2="153.70" y2="682.30" stroke="#bbb" stroke-width="1" />
<line x1="200.80" y1="679.30" x2="200.80" y2="682.30" stroke="#bbb" stroke-width="1" />
<text transform="translate(43.61 701.60) scale(1.1310 1)" font-size="17.5" fill="#0d0d0d" stroke="#0d0d0d" stroke-width="0.55">0</text>
<text transform="translate(97.17 701.60) scale(1.0171 1)" font-size="17.5" fill="#0d0d0d" stroke="#0d0d0d" stroke-width="0.55">10</text>
<text transform="translate(138.48 701.60) scale(1.0537 1)" font-size="17.5" fill="#0d0d0d" stroke="#0d0d0d" stroke-width="0.55">20</text>
<text transform="translate(190.67 701.60) scale(1.0380 1)" font-size="17.5" fill="#0d0d0d" stroke="#0d0d0d" stroke-width="0.55">30</text>
<text transform="translate(31.29 726.90) scale(1.0769 1)" font-size="17.5" fill="#0d0d0d" stroke="#0d0d0d" stroke-width="0.55">Purified Properdin (µg/ml)</text>
<path d="M59.9 648.0 L75.6 604.4 L106.7 600.5 L200.5 576.0" fill="none" stroke="#000" stroke-width="1.9" stroke-linejoin="round" stroke-dasharray="9 5"/>
<circle cx="59.9" cy="648" r="3.6" fill="#fff" stroke="#000" stroke-width="1.1"/>
<circle cx="75.6" cy="604.4" r="3.6" fill="#fff" stroke="#000" stroke-width="1.1"/>
<circle cx="106.7" cy="600.5" r="3.6" fill="#fff" stroke="#000" stroke-width="1.1"/>
<circle cx="200.5" cy="576" r="3.6" fill="#fff" stroke="#000" stroke-width="1.1"/>
<path d="M59.9 679.4 L62.3 673.4 L64.6 671.7 L75.3 662.8 L106.8 653.4 L200.8 642.1" fill="none" stroke="#000" stroke-width="1.8" stroke-linejoin="round" />
<path d="M56.1 679.4 L59.9 675.6 L63.7 679.4 L59.9 683.2 Z" fill="#000" stroke="#000" stroke-width="0.5" stroke-linejoin="round" />
<path d="M58.5 673.4 L62.3 669.6 L66.1 673.4 L62.3 677.2 Z" fill="#000" stroke="#000" stroke-width="0.5" stroke-linejoin="round" />
<path d="M60.8 671.7 L64.6 667.9 L68.4 671.7 L64.6 675.5 Z" fill="#000" stroke="#000" stroke-width="0.5" stroke-linejoin="round" />
<path d="M71.5 662.8 L75.3 659.0 L79.1 662.8 L75.3 666.6 Z" fill="#000" stroke="#000" stroke-width="0.5" stroke-linejoin="round" />
<path d="M103.0 653.4 L106.8 649.6 L110.6 653.4 L106.8 657.2 Z" fill="#000" stroke="#000" stroke-width="0.5" stroke-linejoin="round" />
<path d="M197.0 642.1 L200.8 638.3 L204.6 642.1 L200.8 645.9 Z" fill="#000" stroke="#000" stroke-width="0.5" stroke-linejoin="round" />
<text transform="translate(288.97 539.30) scale(1.0458 1)" font-size="19.5" font-weight="bold" fill="#0d0d0d" stroke="#0d0d0d" stroke-width="0.55">F</text>
<path d="M323.0 701.2 L323.0 652.5 L326.2 637.5 L330.0 625.0 L333.8 612.5 L335.8 607.5 L338.0 615.0 L340.5 632.5 L343.0 655.0 L345.5 675.0 L348.8 687.5 L353.8 696.2 L360.0 700.0 L367.5 701.2 Z" fill="#cfcfcf" stroke="#666" stroke-width="1" stroke-linejoin="round" />
<path d="M323.0 697.5 L330.0 685.0 L336.2 667.5 L341.2 652.5 L345.0 630.0 L348.8 615.0 L353.8 608.0 L358.8 605.0 L362.0 610.0 L365.5 620.0 L369.0 635.0 L372.0 652.5 L375.0 667.5 L378.8 682.5 L383.8 692.5 L390.0 698.0 L400.0 700.5" fill="none" stroke="#c8c8c8" stroke-width="1" stroke-linejoin="round" stroke-dasharray="1 1"/>
<path d="M323.0 695.0 L323.8 693.5 L324.5 692.8 L325.2 692.0 L326.0 689.6 L326.8 689.0 L327.5 687.1 L328.2 686.5 L328.9 685.1 L329.6 683.5 L330.3 682.4 L331.0 681.3 L331.7 681.7 L332.4 679.7 L333.1 678.0 L333.8 678.5 L334.2 677.4 L334.8 674.9 L335.2 672.9 L335.8 671.8 L336.2 670.3 L336.8 669.6 L337.2 667.8 L337.8 666.9 L338.2 665.7 L338.8 665.2 L339.1 664.6 L339.4 662.9 L339.8 660.7 L340.1 659.3 L340.5 658.2 L340.8 656.5 L341.1 655.1 L341.5 653.0 L341.8 652.2 L342.2 652.5 L342.5 649.1 L342.8 648.7 L343.0 647.6 L343.2 646.9 L343.5 644.0 L343.8 642.8 L344.0 641.4 L344.2 640.4 L344.5 639.2 L344.8 639.1 L345.0 637.5 L345.2 636.2 L345.5 632.9 L345.8 631.5 L346.0 631.8 L346.2 630.9 L346.6 628.6 L346.9 627.5 L347.3 624.7 L347.6 624.3 L348.0 624.2 L348.3 622.6 L348.6 621.3 L349.0 620.2 L349.3 617.1 L349.7 615.4 L350.0 614.2 L350.8 613.8 L351.5 612.9 L352.2 612.3 L353.0 610.5 L355.0 609.1 L356.5 608.5 L358.0 606.9 L358.8 606.0 L359.6 603.6 L360.4 604.3 L361.2 601.9 L361.7 604.8 L362.1 605.3 L362.6 605.8 L363.0 606.6 L363.5 608.4 L364.0 610.8 L364.5 612.5 L365.0 612.4 L365.5 613.6 L366.0 616.1 L366.5 617.5 L367.0 618.4 L367.5 619.3 L367.9 621.7 L368.2 621.7 L368.6 623.8 L368.9 625.6 L369.3 628.2 L369.6 628.9 L370.0 630.9 L370.2 631.3 L370.4 632.1 L370.6 633.4 L370.8 636.5 L371.0 637.2 L371.2 637.6 L371.3 638.3 L371.5 640.8 L371.7 642.5 L371.9 643.3 L372.1 644.2 L372.3 646.6 L372.5 648.5 L372.7 648.2 L373.0 649.1 L373.2 651.1 L373.4 652.7 L373.7 654.7 L373.9 654.9 L374.1 657.6 L374.3 658.8 L374.6 659.6 L374.8 660.3 L375.0 663.4 L375.3 663.2 L375.5 665.8 L375.8 665.7 L376.1 667.1 L376.4 669.7 L376.7 670.0 L377.0 672.9 L377.3 673.2 L377.6 673.8 L377.9 675.2 L378.2 677.1 L378.5 679.0 L378.8 681.0 L379.2 680.5 L379.7 682.3 L380.2 683.2 L380.6 685.9 L381.1 685.6 L381.6 686.7 L382.0 688.0 L382.5 689.8 L383.3 691.7 L384.2 692.6 L385.0 693.4 L385.8 694.8 L386.7 695.7 L387.5 696.1 L388.8 696.5 L390.0 697.8 L391.2 698.1 L392.5 698.0 L393.8 699.1 L395.0 699.4 L396.4 699.6 L397.7 699.7 L399.1 699.7 L400.5 699.8 L401.8 700.1 L403.2 700.2 L404.5 700.7 L405.9 700.4 L407.3 700.9 L408.6 700.8 L410.0 701.0 L411.3 701.1 L412.6 701.1 L413.9 701.0 L415.2 700.9 L416.5 701.0 L417.8 701.0 L419.1 701.2 L420.4 701.0 L421.7 701.1 L423.0 701.2 L424.3 701.0 L425.7 701.1 L427.0 701.2 L428.3 701.2 L429.6 701.1 L430.9 701.1 L432.2 701.1 L433.5 701.3 L434.8 701.2 L436.1 701.3 L437.4 701.3 L438.7 701.2 L440.0 701.2" fill="none" stroke="#444" stroke-width="1" stroke-linejoin="round" />
<path d="M323.0 698.8 L324.4 698.7 L325.7 698.2 L327.1 698.4 L328.4 697.9 L329.8 697.7 L331.1 697.3 L332.5 697.7 L333.8 697.3 L335.0 696.4 L336.2 696.1 L337.5 694.5 L338.8 694.1 L340.0 693.7 L341.2 693.7 L342.5 693.1 L343.4 691.2 L344.4 689.9 L345.3 689.1 L346.2 688.1 L347.2 687.7 L348.1 685.4 L349.1 685.4 L350.0 684.2 L350.6 683.1 L351.1 681.8 L351.7 680.2 L352.3 678.4 L352.8 677.1 L353.4 675.9 L354.0 675.6 L354.5 672.8 L355.1 671.8 L355.7 671.8 L356.2 669.4 L356.7 667.8 L357.2 666.5 L357.6 666.4 L358.1 664.6 L358.5 664.8 L359.0 663.3 L359.4 662.3 L359.9 659.5 L360.3 657.8 L360.8 656.6 L361.2 656.2 L361.6 655.5 L362.0 653.6 L362.4 651.9 L362.8 651.1 L363.2 650.3 L363.6 649.1 L363.9 648.0 L364.3 647.0 L364.7 645.4 L365.1 642.9 L365.5 643.2 L365.9 640.8 L366.2 640.1 L366.7 638.5 L367.2 638.0 L367.6 635.6 L368.1 634.4 L368.5 633.2 L369.0 631.7 L369.4 632.1 L369.9 630.2 L370.3 628.4 L370.8 627.3 L371.2 627.3 L372.1 625.0 L372.9 623.2 L373.8 623.2 L374.6 621.3 L375.5 620.6 L377.5 619.6 L378.2 619.3 L378.8 618.9 L379.5 617.7 L381.8 616.7 L382.3 616.0 L382.9 617.8 L383.5 618.7 L384.5 619.7 L385.5 622.3 L386.2 622.8 L386.8 625.0 L387.5 625.2 L388.5 627.3 L389.5 627.4 L389.8 628.4 L390.2 630.9 L390.5 632.6 L390.8 632.2 L391.2 634.7 L391.5 636.1 L391.8 636.6 L392.2 638.3 L392.5 639.2 L393.0 640.7 L393.5 642.2 L394.0 644.3 L394.5 645.8 L394.9 646.2 L395.2 647.2 L395.6 649.3 L395.9 651.5 L396.2 651.8 L396.6 653.5 L397.0 654.6 L397.4 657.3 L397.8 658.1 L398.1 658.4 L398.5 659.9 L398.9 661.9 L399.2 663.6 L399.6 665.2 L400.0 665.4 L400.4 666.8 L400.8 669.2 L401.1 669.8 L401.5 670.8 L401.9 672.1 L402.2 674.7 L402.6 674.6 L403.0 676.4 L403.4 677.2 L403.8 678.6 L404.4 680.7 L405.0 682.2 L405.6 682.2 L406.2 683.2 L406.9 685.4 L407.5 685.7 L408.1 686.7 L408.8 689.4 L409.8 689.5 L410.8 690.9 L411.9 691.1 L412.9 692.6 L414.0 692.9 L415.0 693.3 L416.2 693.6 L417.5 694.6 L418.8 695.1 L420.0 695.8 L421.2 695.4 L422.5 696.3 L423.8 696.5 L425.0 697.0 L426.4 696.7 L427.7 696.9 L429.1 697.2 L430.5 697.6 L431.8 696.9 L433.2 697.3 L434.5 697.6 L435.9 697.8 L437.3 697.1 L438.6 697.1 L440.0 697.9 L441.5 698.1 L443.0 698.0 L444.5 697.9 L446.0 698.8 L447.3 698.5 L448.6 699.0 L449.9 698.8 L451.2 699.1 L452.5 698.7 L453.8 699.2 L455.1 698.9 L456.4 699.1 L457.7 699.5 L459.0 699.5 L460.3 699.2 L461.6 699.3 L462.9 699.5 L464.2 699.7 L465.5 699.7 L466.8 699.6 L468.1 699.8 L469.4 700.1 L470.7 700.3 L472.0 700.0 L473.3 700.3 L474.6 700.5 L475.9 700.2 L477.2 700.6 L478.5 700.5 L479.8 700.7 L481.1 700.7 L482.4 700.7 L483.7 700.6 L485.0 700.7 L486.4 700.7 L487.7 700.7 L489.0 700.8 L490.3 700.8 L491.6 700.8 L492.9 700.7 L494.2 700.9 L495.5 700.8 L496.8 700.8 L498.1 701.0 L499.5 701.0 L500.8 700.9 L502.1 700.9 L503.4 701.0 L504.7 700.9 L506.0 701.0" fill="none" stroke="#000" stroke-width="1.9" stroke-linejoin="round" />
<line x1="323.20" y1="537.00" x2="323.20" y2="701.30" stroke="#000" stroke-width="2.0" />
<line x1="321.90" y1="537.00" x2="321.90" y2="701.30" stroke="#444" stroke-width="1.0" stroke-dasharray="0.8 2.3"/>
<line x1="323.20" y1="701.30" x2="506.20" y2="701.30" stroke="#000" stroke-width="1.3" />
<line x1="506.20" y1="537.50" x2="506.20" y2="701.30" stroke="#222" stroke-width="1.1" />
<text x="316.5" y="701.6999999999999" font-size="4.5" text-anchor="middle" fill="#444" transform="rotate(-90 316.5 701.6999999999999)">0</text>
<line x1="320.70" y1="700.70" x2="323.20" y2="700.70" stroke="#000" stroke-width="0.8" />
<text x="316.5" y="670.56" font-size="4.5" text-anchor="middle" fill="#444" transform="rotate(-90 316.5 670.56)">40</text>
<line x1="320.70" y1="669.56" x2="323.20" y2="669.56" stroke="#000" stroke-width="0.8" />
<text x="316.5" y="639.42" font-size="4.5" text-anchor="middle" fill="#444" transform="rotate(-90 316.5 639.42)">80</text>
<line x1="320.70" y1="638.42" x2="323.20" y2="638.42" stroke="#000" stroke-width="0.8" />
<text x="316.5" y="608.28" font-size="4.5" text-anchor="middle" fill="#444" transform="rotate(-90 316.5 608.28)">120</text>
<line x1="320.70" y1="607.28" x2="323.20" y2="607.28" stroke="#000" stroke-width="0.8" />
<text x="316.5" y="577.14" font-size="4.5" text-anchor="middle" fill="#444" transform="rotate(-90 316.5 577.14)">160</text>
<line x1="320.70" y1="576.14" x2="323.20" y2="576.14" stroke="#000" stroke-width="0.8" />
<text x="316.5" y="546.0" font-size="4.5" text-anchor="middle" fill="#444" transform="rotate(-90 316.5 546.0)">200</text>
<line x1="320.70" y1="545.00" x2="323.20" y2="545.00" stroke="#000" stroke-width="0.8" />
<text x="322.5" y="709.5" font-size="4.5" text-anchor="middle" fill="#444">10</text>
<text x="326.0" y="707" font-size="3.5" text-anchor="middle" fill="#444">0</text>
<text x="375" y="709.5" font-size="4.5" text-anchor="middle" fill="#444">10</text>
<text x="378.5" y="707" font-size="3.5" text-anchor="middle" fill="#444">1</text>
<text x="426.5" y="709.5" font-size="4.5" text-anchor="middle" fill="#444">10</text>
<text x="430.0" y="707" font-size="3.5" text-anchor="middle" fill="#444">2</text>
<text x="478.5" y="709.5" font-size="4.5" text-anchor="middle" fill="#444">10</text>
<text x="482.0" y="707" font-size="3.5" text-anchor="middle" fill="#444">3</text>
<text transform="translate(327.21 563.00) scale(1.0985 1)" font-size="17.5" fill="#0d0d0d" stroke="#0d0d0d" stroke-width="0.55">EDTA</text>
<text transform="translate(372.66 586.25) scale(0.9701 1)" font-size="17.5" fill="#0d0d0d" stroke="#0d0d0d" stroke-width="0.55">TNF</text>
<text transform="translate(399.63 612.50) scale(1.0511 1)" font-size="17.5" fill="#0d0d0d" stroke="#0d0d0d" stroke-width="0.55">TNF/fMLP</text>
<text transform="translate(374.25 735.00) scale(1.0743 1)" font-size="17.5" fill="#0d0d0d" stroke="#0d0d0d" stroke-width="0.55">anti-C5b-9</text>
<line x1="348.00" y1="566.50" x2="339.50" y2="595.00" stroke="#000" stroke-width="1.8" stroke-dasharray="1.6 1.6"/>
<path d="M336.2 595.5 L344.2 598.5 L335.8 605.5 Z" fill="#000" stroke="#000" stroke-width="0.5" stroke-linejoin="round" />
<line x1="377.50" y1="588.00" x2="368.50" y2="610.00" stroke="#000" stroke-width="1.3" />
<path d="M363.8 612.0 L371.8 612.0 L367.0 619.5 Z" fill="#000" stroke="#000" stroke-width="0.5" stroke-linejoin="round" />
<line x1="403.30" y1="616.00" x2="398.00" y2="637.00" stroke="#000" stroke-width="1.8" />
<path d="M394.5 635.5 L404.5 639.5 L395.0 647.0 Z" fill="#000" stroke="#000" stroke-width="0.5" stroke-linejoin="round" />
</svg>
</body></html>
